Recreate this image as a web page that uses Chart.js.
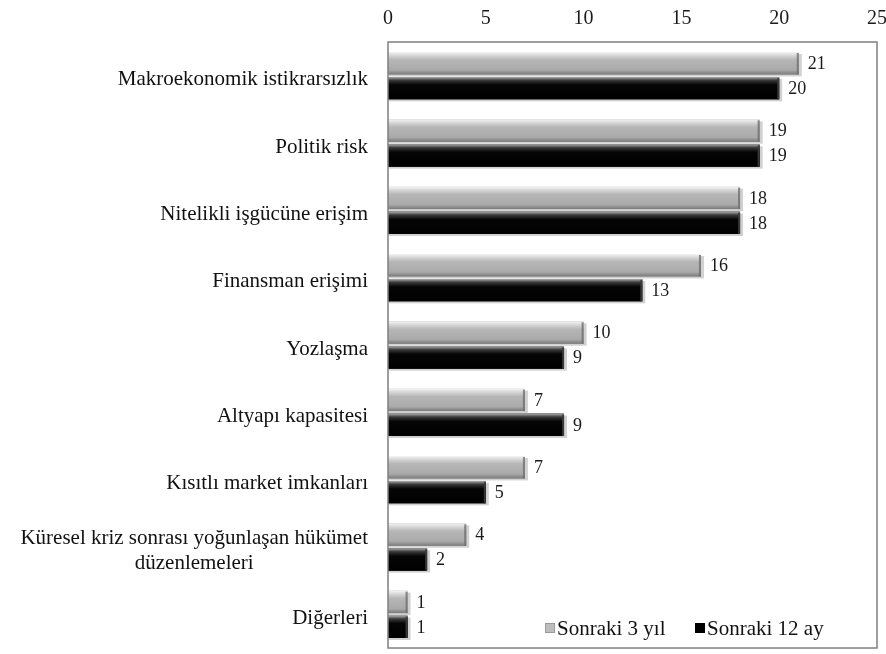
<!DOCTYPE html>
<html>
<head>
<meta charset="utf-8">
<script src="https://cdn.jsdelivr.net/npm/chart.js@4.4.1/dist/chart.umd.min.js"></script>
<style>
  html, body { margin: 0; padding: 0; background: #fff; }
  #wrap { width: 886px; height: 654px; position: relative; }
</style>
</head>
<body>
<div id="wrap"><canvas id="riskChart"></canvas></div>
<script>
// ============================================================================
// DATA
// ============================================================================

const categories = [
    'Makroekonomik istikrarsızlık',
    'Politik risk',
    'Nitelikli işgücüne erişim',
    'Finansman erişimi',
    'Yozlaşma',
    'Altyapı kapasitesi',
    'Kısıtlı market imkanları',
    ['Küresel kriz sonrası yoğunlaşan hükümet', 'düzenlemeleri'],
    'Diğerleri'
];
const next3Years = [21, 19, 18, 16, 10, 7, 7, 4, 1];
const next12Months = [20, 19, 18, 13, 9, 9, 5, 2, 1];
const xTicks = [0, 5, 10, 15, 20, 25];

const FONT = "'Liberation Serif', 'Times New Roman', serif";

// ============================================================================
// PLUGINS
// ============================================================================

// bevel / gradient look on each bar
const barShading = {
    id: 'barShading',
    afterDatasetsDraw(chart) {
        const ctx = chart.ctx;
        chart.data.datasets.forEach((ds, di) => {
            const meta = chart.getDatasetMeta(di);
            meta.data.forEach(bar => {
                const top = bar.y - bar.height / 2;
                const left = bar.base;
                const w = bar.x - bar.base;
                const h = bar.height;
                const g = ctx.createLinearGradient(0, top, 0, top + h);
                if (di === 0) {
                    g.addColorStop(0, '#f4f4f4');
                    g.addColorStop(0.18, '#d2d2d2');
                    g.addColorStop(0.35, '#b6b6b6');
                    g.addColorStop(0.8, '#aaaaaa');
                    g.addColorStop(1, '#7a7a7a');
                } else {
                    g.addColorStop(0, '#b0b0b0');
                    g.addColorStop(0.15, '#3a3a3a');
                    g.addColorStop(0.35, '#050505');
                    g.addColorStop(1, '#000000');
                }
                ctx.save();
                // soft shadow
                ctx.fillStyle = 'rgba(0,0,0,0.18)';
                ctx.fillRect(left + 1, top + 2, w + 2, h);
                ctx.fillStyle = g;
                ctx.fillRect(left, top, w, h);
                // right end edge
                ctx.fillStyle = di === 0 ? 'rgba(110,110,110,0.8)' : 'rgba(60,60,60,0.9)';
                ctx.fillRect(left + w - 2, top + 1, 2, h - 1);
                ctx.restore();
            });
        });
    }
};

// value labels, category labels, frame and legend
const decorations = {
    id: 'decorations',
    afterDraw(chart) {
        const ctx = chart.ctx;
        const area = chart.chartArea;
        const yScale = chart.scales.y;
        ctx.save();

        // value labels
        ctx.font = '18px ' + FONT;
        ctx.fillStyle = '#1a1a1a';
        ctx.textAlign = 'left';
        ctx.textBaseline = 'middle';
        chart.data.datasets.forEach((ds, di) => {
            chart.getDatasetMeta(di).data.forEach((bar, i) => {
                ctx.fillText(String(ds.data[i]), bar.x + 9, bar.y + 1);
            });
        });

        // category labels (multi-line ones centered on each other)
        ctx.font = '21px ' + FONT;
        ctx.fillStyle = '#111';
        const right = area.left - 20;
        const lineH = 25;
        chart.data.labels.forEach((lab, i) => {
            const y = yScale.getPixelForTick(i) + 4;
            const lines = Array.isArray(lab) ? lab : [lab];
            const maxW = Math.max(...lines.map(l => ctx.measureText(l).width));
            const y0 = y - (lines.length - 1) * lineH / 2;
            ctx.textAlign = lines.length > 1 ? 'center' : 'right';
            const x = lines.length > 1 ? right - maxW / 2 : right;
            lines.forEach((l, k) => ctx.fillText(l, x, y0 + k * lineH));
        });

        // plot frame
        ctx.strokeStyle = '#7f7f7f';
        ctx.lineWidth = 1.5;
        ctx.strokeRect(area.left, area.top, area.right - area.left, area.bottom - area.top);

        // legend inside the plot, bottom right
        ctx.font = '21px ' + FONT;
        ctx.textAlign = 'left';
        const ly = area.bottom - 20;
        const legendX = [545, 695];
        const swatch = ['#bdbdbd', '#000'];
        chart.data.datasets.forEach((ds, di) => {
            const x = legendX[di];
            ctx.fillStyle = swatch[di];
            ctx.fillRect(x, ly - 5, 10, 10);
            if (di === 0) {
                ctx.strokeStyle = '#9a9a9a';
                ctx.lineWidth = 1;
                ctx.strokeRect(x + 0.5, ly - 4.5, 9, 9);
            }
            ctx.fillStyle = '#111';
            ctx.fillText(ds.label, x + 12, ly + 1);
        });
        ctx.restore();
    }
};

// ============================================================================
// CHART
// ============================================================================

const ctx = document.getElementById('riskChart');
new Chart(ctx, {
    type: 'bar',
    data: {
        labels: categories,
        datasets: [{
            label: 'Sonraki 3 yıl',
            data: next3Years,
            backgroundColor: '#b0b0b0'
        }, {
            label: 'Sonraki 12 ay',
            data: next12Months,
            backgroundColor: '#000'
        }]
    },
    options: {
        indexAxis: 'y',
        responsive: true,
        maintainAspectRatio: false,
        animation: false,
        layout: { padding: { top: 0, right: 9, bottom: 6, left: 0 } },
        datasets: {
            bar: { categoryPercentage: 0.74, barPercentage: 0.9 }
        },
        plugins: {
            legend: { display: false },
            tooltip: { enabled: false }
        },
        scales: {
            x: {
                position: 'top',
                min: 0,
                max: 25,
                afterBuildTicks: scale => {
                    scale.ticks = xTicks.map(v => ({ value: v }));
                },
                afterFit: scale => {
                    scale.height = 42;
                    scale.paddingLeft = 0;
                    scale.paddingRight = 0;
                },
                grid: { display: false },
                border: { display: false },
                ticks: {
                    color: '#1a1a1a',
                    font: { family: FONT, size: 20 },
                    padding: 3
                }
            },
            y: {
                afterFit: scale => { scale.width = 388; },
                grid: { display: false },
                border: { display: false },
                ticks: { display: false }
            }
        }
    },
    plugins: [barShading, decorations]
});
</script>
</body>
</html>
